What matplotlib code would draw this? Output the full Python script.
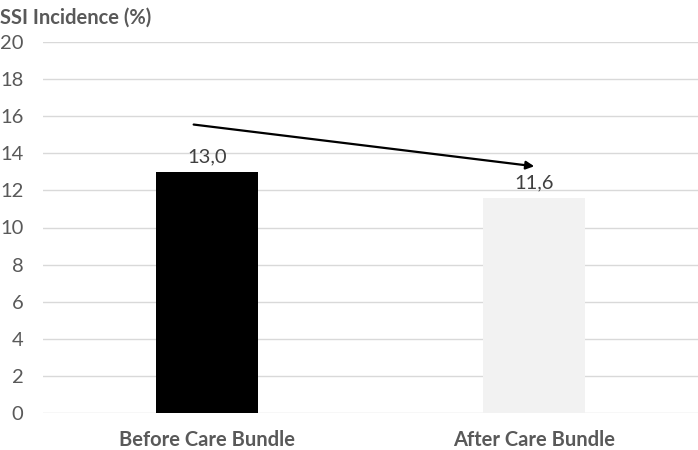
import matplotlib.pyplot as plt

categories = ["Before Care Bundle", "After Care Bundle"]
values = [13.0, 11.6]
value_labels = ["13,0", "11,6"]
bar_colors = ["#000000", "#f2f2f2"]
trend_start = (-0.04, 15.55)
trend_end = (1.0, 13.3)

plt.rcParams['font.family'] = ['Lato', 'DejaVu Sans']
text_color = "#595959"

fig = plt.figure(figsize=(6.98, 4.5), dpi=100)
ax = fig.add_axes([43 / 698, 1 - 413 / 450, 1 - 43 / 698, 371 / 450])

x = range(len(categories))
ax.bar(x, values, width=0.31, color=bar_colors, zorder=3)

for xi, v, lab in zip(x, values, value_labels):
    ax.annotate(lab, (xi, v), xytext=(0, 5), textcoords="offset points",
                ha="center", va="bottom", fontsize=14.5, color="#404040", zorder=4)

# trend arrow between the two bars
ax.annotate("", xy=trend_end, xytext=trend_start,
            arrowprops=dict(arrowstyle="-|>", color="black", lw=1.6,
                            mutation_scale=12, shrinkA=0, shrinkB=0),
            zorder=5)

ax.set_xlim(-0.5, 1.5)
ax.set_ylim(0, 20)
ax.set_yticks(range(0, 21, 2))
ax.set_xticks(list(x))
ax.set_xticklabels(categories, fontsize=14.5, fontweight="bold", color=text_color)
ax.tick_params(axis="x", length=0, pad=12)
ax.tick_params(axis="y", length=0, pad=14, labelsize=14.5, labelcolor=text_color)
ax.grid(axis="y", color="#d9d9d9", linewidth=1, zorder=0)
for s in ax.spines.values():
    s.set_visible(False)

fig.text(0.0, 1 - 18 / 450, "SSI Incidence (%)", fontsize=14.5, fontweight="bold",
         color=text_color, ha="left", va="center")

fig.savefig("out.png", dpi=100)
